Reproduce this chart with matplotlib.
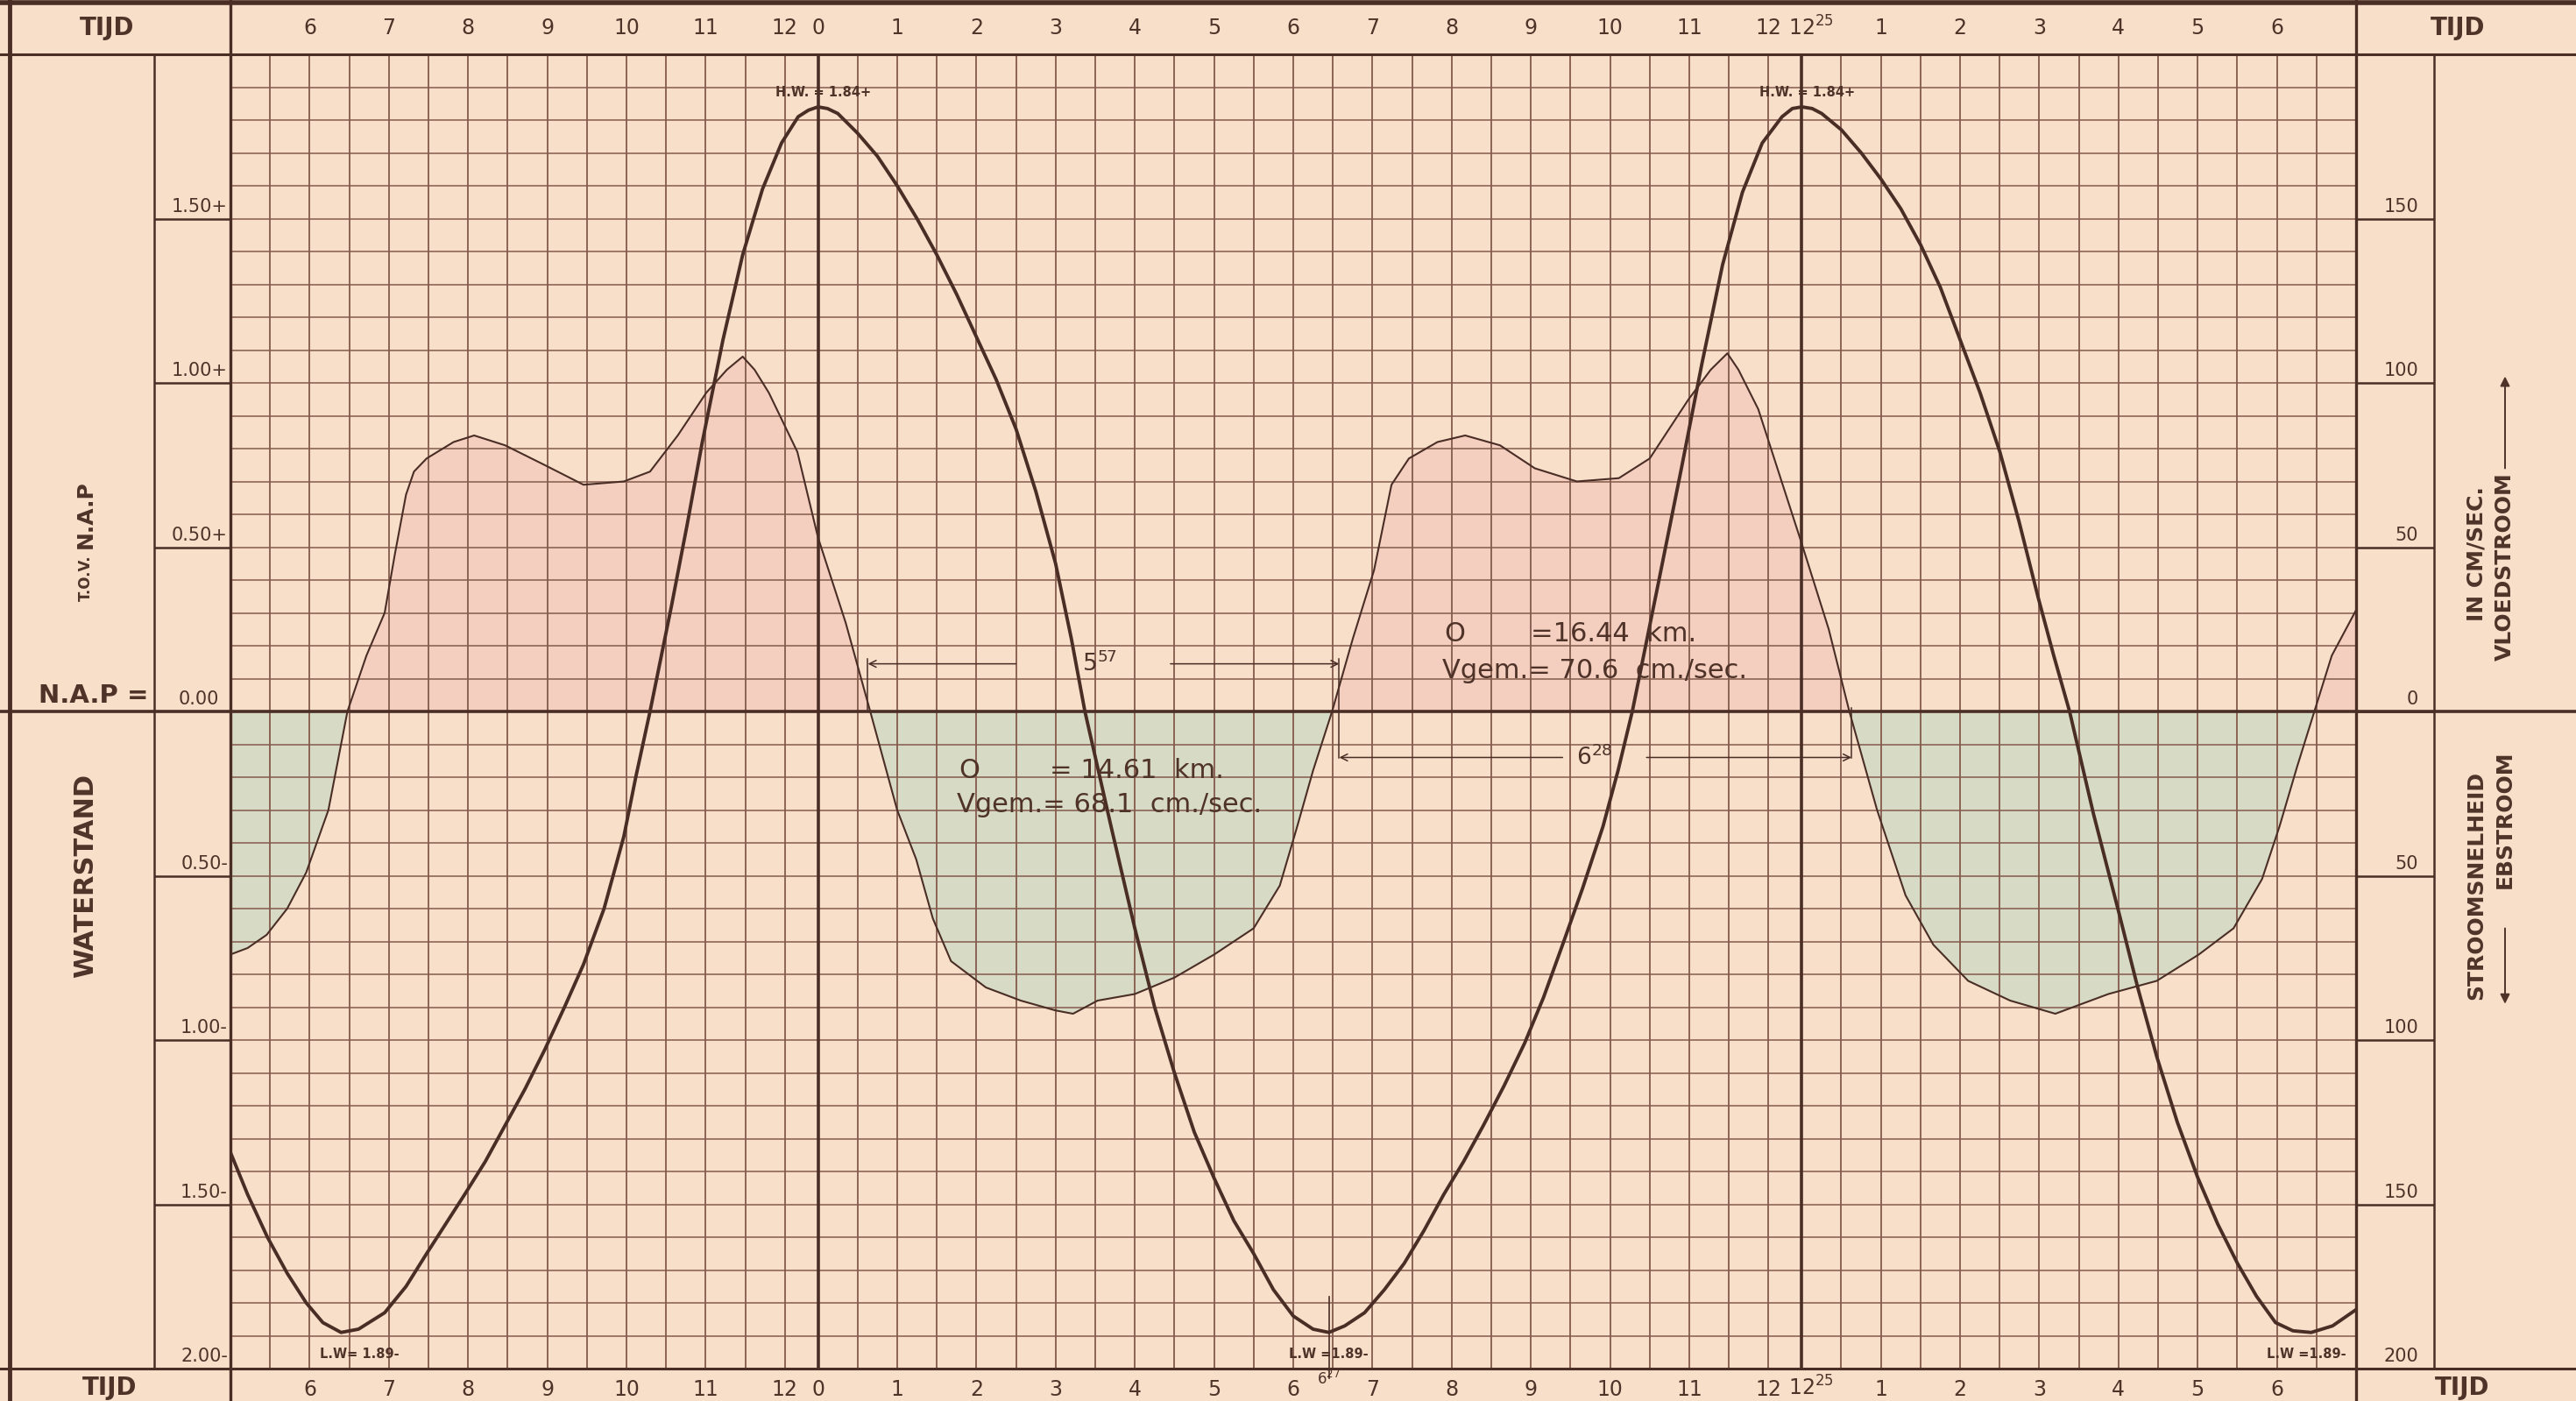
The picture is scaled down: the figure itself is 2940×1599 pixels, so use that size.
import numpy as np
import matplotlib
matplotlib.use("Agg")
import matplotlib.pyplot as plt
from matplotlib.lines import Line2D

PAPER = "#f8dfca"
FLOOD = "#f4cfbf"
EBB = "#d7dbc5"
INK = "#4a2e26"
GRID = "#845b4c"
TEXT = "#4f3329"

# Time in hours after the first high water (H.W. at 12.25)
T_START = -(7 + 25 / 60)      # 5.00
HW2 = 12 + 25 / 60            # next high water, 12 h 25 min later
T_END = HW2 + 7

# Water level in m relative to N.A.P.
level_t = [-7.42, -7.2, -6.95, -6.7, -6.46, -6.25, -6.02, -5.8, -5.47, -5.2,
           -4.94, -4.7, -4.46, -4.2, -3.95, -3.7, -3.45, -3.2, -2.96, -2.7,
           -2.45, -2.3, -2.12, -1.85, -1.65, -1.46, -1.2, -0.95, -0.7, -0.46,
           -0.25, -0.12, 0.0, 0.12, 0.25, 0.5, 0.75, 1.0, 1.25, 1.5,
           1.75, 2.0, 2.25, 2.5, 2.75, 3.0, 3.2, 3.37, 3.7, 4.0,
           4.25, 4.5, 4.75, 5.0, 5.25, 5.5, 5.75, 6.0, 6.25, 6.45,
           6.65, 6.9, 7.15, 7.4, 7.65, 7.9, 8.15, 8.4, 8.66, 8.92,
           9.16, 9.4, 9.65, 9.91, 10.1, 10.28, 10.6, 10.9, 11.16, 11.42,
           11.67, 11.92, 12.17, 12.3, 12.42, 12.55, 12.67, 12.92, 13.17, 13.42,
           13.67, 13.92, 14.17, 14.42, 14.67, 14.92, 15.16, 15.4, 15.6, 15.8,
           16.1, 16.42, 16.66, 16.9, 17.16, 17.42, 17.67, 17.92, 18.16, 18.4,
           18.62, 18.85, 19.12, 19.42]
level_m = [-1.34, -1.47, -1.60, -1.71, -1.80, -1.86, -1.89, -1.88, -1.83, -1.75,
           -1.65, -1.56, -1.47, -1.37, -1.26, -1.15, -1.03, -0.90, -0.77, -0.60,
           -0.38, -0.20, 0.00, 0.32, 0.57, 0.82, 1.13, 1.39, 1.59, 1.73,
           1.81, 1.83, 1.84, 1.835, 1.82, 1.76, 1.69, 1.60, 1.50, 1.39,
           1.27, 1.14, 1.01, 0.86, 0.67, 0.45, 0.22, 0.00, -0.35, -0.66,
           -0.90, -1.10, -1.28, -1.42, -1.55, -1.65, -1.76, -1.84, -1.88, -1.89,
           -1.87, -1.83, -1.76, -1.68, -1.58, -1.47, -1.37, -1.26, -1.14, -1.01,
           -0.87, -0.71, -0.54, -0.35, -0.18, 0.00, 0.38, 0.74, 1.06, 1.36,
           1.58, 1.73, 1.81, 1.835, 1.84, 1.835, 1.82, 1.77, 1.70, 1.62,
           1.53, 1.42, 1.29, 1.13, 0.97, 0.79, 0.58, 0.35, 0.17, 0.00,
           -0.31, -0.61, -0.84, -1.05, -1.25, -1.42, -1.56, -1.68, -1.78, -1.86,
           -1.885, -1.89, -1.87, -1.82]

# Current velocity in cm/sec (+ vloedstroom, - ebstroom)
vel_t = [-7.42, -7.2, -6.96, -6.7, -6.46, -6.18, -5.94, -5.7, -5.47, -5.34,
         -5.2, -5.1, -4.94, -4.6, -4.34, -3.95, -3.45, -2.96, -2.45, -2.12,
         -1.77, -1.41, -1.15, -0.95, -0.8, -0.62, -0.26, 0.0, 0.35, 0.66,
         1.0, 1.24, 1.45, 1.68, 2.12, 2.56, 3.0, 3.22, 3.53, 4.0,
         4.5, 5.0, 5.5, 5.83, 6.05, 6.25, 6.49, 6.75, 7.02, 7.24,
         7.46, 7.82, 8.17, 8.61, 9.05, 9.58, 10.11, 10.5, 10.99, 11.27,
         11.48, 11.62, 11.87, 12.42, 12.76, 13.02, 13.37, 13.73, 14.08, 14.52,
         15.05, 15.62, 16.29, 16.9, 17.43, 17.87, 18.23, 18.45, 18.67, 18.89,
         19.11, 19.42]
vel_cms = [-74, -72, -68, -60, -49, -30, 0, 17, 30, 48,
           66, 73, 77, 82, 84, 81, 75, 69, 70, 73,
           84, 97, 104, 108, 104, 97, 79, 53, 27, 0,
           -30, -45, -63, -76, -84, -88, -91, -92, -88, -86,
           -81, -74, -66, -53, -35, -18, 0, 22, 43, 69,
           77, 82, 84, 81, 74, 70, 71, 77, 95, 104,
           109, 104, 92, 51, 25, 0, -30, -56, -71, -82,
           -88, -92, -86, -82, -74, -66, -51, -35, -17, 0,
           17, 31]

# TIJD rows: clock hours before the first H.W., then hours after each H.W.
tijd_labels = ["6", "7", "8", "9", "10", "11", "12",
               "0", "1", "2", "3", "4", "5", "6", "7", "8", "9", "10", "11", "12",
               r"$\mathregular{12^{25}}$", "1", "2", "3", "4", "5", "6"]
tijd_hours = np.concatenate([T_START + np.arange(1, 8),
                             np.arange(0, 13),
                             HW2 + np.arange(0, 7)])

level_ticks = [1.5, 1.0, 0.5, -0.5, -1.0, -1.5, -2.0]
level_tick_labels = ["1.50+", "1.00+", "0.50+", "0.50-", "1.00-", "1.50-", "2.00-"]
vel_ticks = [150, 100, 50, 0, -50, -100, -150, -200]
vel_tick_labels = ["150", "100", "50", "0", "50", "100", "150", "200"]

hw_times = [0.0, HW2]
hw_text = "H.W. = 1.84+"
lw_text_times = [-5.79, 6.45, 18.79]
lw_texts = ["L.W= 1.89-", "L.W =1.89-", "L.W =1.89-"]
lw_mark_time = 6 + 27 / 60

# Durations of flood and ebb (5 h 57 min and 6 h 28 min)
slack_start = 0.63
flood_dur = 5 + 57 / 60
ebb_dur = 6 + 28 / 60

# ---------------------------------------------------------------- layout
W_PX, H_PX = 2940, 1599
AX_L, AX_R, AX_T, AX_B = 263, 2689, 62, 1562


def fx(px):
    return (px - AX_L) / (AX_R - AX_L)


def fy(py):
    return (AX_B - py) / (AX_B - AX_T)


fig = plt.figure(figsize=(W_PX / 100, H_PX / 100), dpi=100)
fig.patch.set_facecolor(PAPER)
ax_v = fig.add_axes([AX_L / W_PX, 1 - AX_B / H_PX,
                     (AX_R - AX_L) / W_PX, (AX_B - AX_T) / H_PX])
ax_v.set_facecolor(PAPER)
ax_v.set_xlim(T_START, T_END)
ax_v.set_ylim(-200, 200)
ax_w = ax_v.twinx()
ax_w.set_ylim(-2.0, 2.0)
ax_w.patch.set_visible(False)
for a in (ax_v, ax_w):
    for s in a.spines.values():
        s.set_visible(False)
    a.tick_params(left=False, right=False, bottom=False, top=False,
                  labelleft=False, labelright=False, labelbottom=False)

vt = np.array(vel_t)
vv = np.array(vel_cms)
ax_v.fill_between(vt, vv, 0, where=vv >= 0, interpolate=True,
                  color=FLOOD, lw=0, zorder=0.5)
ax_v.fill_between(vt, vv, 0, where=vv <= 0, interpolate=True,
                  color=EBB, lw=0, zorder=0.5)

# half-hour grid, aligned to the clock before the first H.W. and to each H.W. after it
grid_x = np.concatenate([T_START + 0.5 * np.arange(0, 15),
                         0.5 * np.arange(0, 25),
                         HW2 + 0.5 * np.arange(0, 15)])
ax_v.vlines(grid_x, -200, 200, color=GRID, lw=1.3, zorder=1)
ax_v.hlines(np.arange(-200, 201, 10), T_START, T_END, color=GRID, lw=1.1, zorder=1)
for t in hw_times:
    ax_v.axvline(t, color=INK, lw=2.6, zorder=1.5)

ax_v.plot(vt, vv, color=INK, lw=1.5, zorder=2, solid_joinstyle="round")
ax_w.plot(level_t, level_m, color=INK, lw=2.8, zorder=3, solid_joinstyle="round")

# frame lines running through the side columns
ext = dict(xmin=fx(0), xmax=fx(W_PX), clip_on=False, color=INK)
ax_w.axhline(0, lw=2.6, **ext)
ax_w.axhline(2.0, lw=2.2, **ext)
ax_w.axhline(-2.0, lw=2.2, **ext)
for t in (T_START, T_END):
    ax_v.axvline(t, ymin=fy(H_PX), ymax=fy(0), color=INK, lw=2.4, clip_on=False)
for xa in (fx(176), fx(2778)):
    ax_v.add_line(Line2D([xa, xa], [0, 1], transform=ax_v.transAxes,
                         color=INK, lw=1.8, clip_on=False))
fig.add_artist(Line2D([11 / W_PX, 11 / W_PX], [0, 1], color=INK, lw=3.5))
fig.add_artist(Line2D([0, 1], [1 - 3 / H_PX, 1 - 3 / H_PX], color=INK, lw=4))

ytr_w = ax_w.get_yaxis_transform()
ytr_v = ax_v.get_yaxis_transform()
xtr = ax_v.get_xaxis_transform()

# level scale on the left
ax_w.hlines(level_ticks, fx(176), 0, transform=ytr_w, color=INK, lw=1.8, clip_on=False)
for y, lab in zip(level_ticks, level_tick_labels):
    ax_w.text(fx(260), y + 0.01, lab, transform=ytr_w, ha="right", va="bottom",
              fontsize=15, color=TEXT)
ax_w.text(fx(250), 0.01, "0.00", transform=ytr_w, ha="right", va="bottom",
          fontsize=15, color=TEXT)
ax_w.text(fx(170), 0.01, "N.A.P =", transform=ytr_w, ha="right", va="bottom",
          fontsize=21, fontweight="bold", color=TEXT)
ax_w.text(fx(98), 0.405, "T.O.V.", transform=ytr_w, ha="center", va="center",
          rotation=90, fontsize=12, fontweight="bold", color=TEXT)
ax_w.text(fx(98), 0.60, "N.A.P", transform=ytr_w, ha="center", va="center",
          rotation=90, fontsize=18, fontweight="bold", color=TEXT)
ax_w.text(fx(98), -0.50, "WATERSTAND", transform=ytr_w, ha="center", va="center",
          rotation=90, fontsize=22, fontweight="bold", color=TEXT)

# velocity scale on the right
ax_v.hlines(vel_ticks, 1, fx(2778), transform=ytr_v, color=INK, lw=1.8, clip_on=False)
for v, lab in zip(vel_ticks, vel_tick_labels):
    ax_v.text(fx(2760), v + 1, lab, transform=ytr_v, ha="right", va="bottom",
              fontsize=15, color=TEXT)
ax_v.text(fx(2826), 48, "IN CM/SEC.", transform=ytr_v, ha="center", va="center",
          rotation=90, fontsize=18, fontweight="bold", color=TEXT)
ax_v.text(fx(2826), -53, "STROOMSNELHEID", transform=ytr_v, ha="center", va="center",
          rotation=90, fontsize=18, fontweight="bold", color=TEXT)
ax_v.text(fx(2859), 44, "VLOEDSTROOM", transform=ytr_v, ha="center", va="center",
          rotation=90, fontsize=18, fontweight="bold", color=TEXT)
ax_v.text(fx(2859), -33, "EBSTROOM", transform=ytr_v, ha="center", va="center",
          rotation=90, fontsize=18, fontweight="bold", color=TEXT)
arrow_kw = dict(arrowstyle="-|>", color=TEXT, lw=1.4, mutation_scale=16,
                shrinkA=0, shrinkB=0)
ax_v.annotate("", xy=(fx(2859), 102), xycoords=ytr_v, xytext=(fx(2859), 74),
              textcoords=ytr_v, arrowprops=arrow_kw, annotation_clip=False)
ax_v.annotate("", xy=(fx(2859), -89), xycoords=ytr_v, xytext=(fx(2859), -66),
              textcoords=ytr_v, arrowprops=arrow_kw, annotation_clip=False)

# TIJD rows (the "12 25" label sits with its hour on the H.W. line)
for t, lab in zip(tijd_hours, tijd_labels):
    if "25" in lab:
        kw = dict(ha="left")
        t = t - 0.17
    else:
        kw = dict(ha="center")
    ax_v.text(t, fy(32), lab, transform=xtr, va="center", fontsize=17,
              color=TEXT, **kw)
    ax_v.text(t, fy(1598), lab, transform=xtr, va="bottom", fontsize=17,
              color=TEXT, **kw)
for xa, ya, va in ((fx(122), fy(32), "center"), (fx(2805), fy(32), "center"),
                   (fx(125), fy(1598), "bottom"), (fx(2810), fy(1598), "bottom")):
    ax_v.text(xa, ya, "TIJD", transform=ax_v.transAxes, ha="center", va=va,
              fontsize=20, fontweight="bold", color=TEXT)

# high and low water marks
for t in hw_times:
    ax_w.text(t + 0.07, 1.885, hw_text, ha="center", va="center",
              fontsize=10.5, fontweight="bold", color=TEXT)
for t, lab in zip(lw_text_times, lw_texts):
    ax_w.text(t, -1.955, lab, ha="center", va="center",
              fontsize=10.5, fontweight="bold", color=TEXT)
ax_w.plot([lw_mark_time, lw_mark_time], [-1.78, -2.03], color=INK, lw=1.2,
          clip_on=False)
ax_v.text(lw_mark_time, fy(1564), r"$\mathregular{6^{27}}$", transform=xtr,
          ha="center", va="top", fontsize=12, color=TEXT)

# flood / ebb duration brackets
flood_end = slack_start + flood_dur
ebb_end = flood_end + ebb_dur
bk = dict(color=INK, lw=1.1)
br_arrow = dict(arrowstyle="->", color=INK, lw=1.1, mutation_scale=14,
                shrinkA=0, shrinkB=0)
y_up, y_dn = 0.145, -0.14
ax_w.plot([slack_start, slack_start], [0, y_up + 0.015], **bk)
ax_w.plot([flood_end, flood_end], [y_up + 0.015, y_dn], **bk)
ax_w.plot([ebb_end, ebb_end], [y_dn, 0.01], **bk)
ax_w.annotate("", xy=(slack_start, y_up), xytext=(2.5, y_up), arrowprops=br_arrow)
ax_w.annotate("", xy=(flood_end, y_up), xytext=(4.45, y_up), arrowprops=br_arrow)
ax_w.annotate("", xy=(flood_end, y_dn), xytext=(9.4, y_dn), arrowprops=br_arrow)
ax_w.annotate("", xy=(ebb_end, y_dn), xytext=(10.46, y_dn), arrowprops=br_arrow)
ax_w.text(3.55, y_up, r"$\mathregular{5^{57}}$", ha="center", va="center",
          fontsize=19, color=TEXT)
ax_w.text(9.8, y_dn, r"$\mathregular{6^{28}}$", ha="center", va="center",
          fontsize=19, color=TEXT)

# discharge and mean velocity per tide
ax_w.text(1.78, -0.18, "O", ha="left", va="center", fontsize=22, color=TEXT)
ax_w.text(2.92, -0.18, "= 14.61  km.", ha="left", va="center", fontsize=22, color=TEXT)
ax_w.text(1.75, -0.285, "Vgem.= 68.1  cm./sec.", ha="left", va="center",
          fontsize=22, color=TEXT)
ax_w.text(7.9, 0.235, "O", ha="left", va="center", fontsize=22, color=TEXT)
ax_w.text(9.0, 0.235, "=16.44  km.", ha="left", va="center", fontsize=22, color=TEXT)
ax_w.text(7.88, 0.125, "Vgem.= 70.6  cm./sec.", ha="left", va="center",
          fontsize=22, color=TEXT)

fig.savefig("out.png", dpi=100, facecolor=PAPER)
